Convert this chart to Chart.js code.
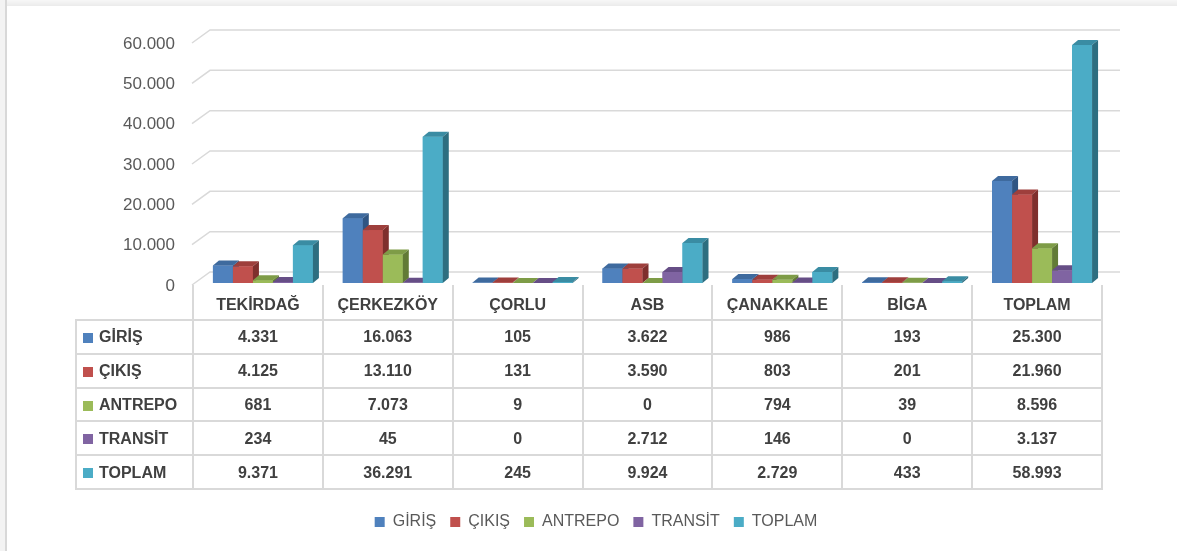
<!DOCTYPE html>
<html lang="tr">
<head>
<meta charset="utf-8">
<title>Gümrük işlemleri</title>
<script src="https://cdn.jsdelivr.net/npm/chart.js@4.4.1/dist/chart.umd.min.js"></script>
<style>
    html, body { margin: 0; padding: 0; background: #fff; }
    #wrap { position: relative; width: 1177px; height: 551px; overflow: hidden; }
    #topEdge { position: absolute; left: 0; top: 0; width: 1177px; height: 6px; background: linear-gradient(#f7f7f7, #ebebeb); }
    #leftEdge { position: absolute; left: 0; top: 0; width: 5px; height: 551px; background: #f3f3f3; border-right: 2px solid #d8d8d8; }
    #chart { position: absolute; left: 0; top: 0; }
</style>
</head>
<body>
<div id="wrap">
    <div id="topEdge"></div>
    <div id="leftEdge"></div>
    <canvas id="chart" width="1177" height="551"></canvas>
</div>
<script>
const categories = ['TEKİRDAĞ', 'ÇERKEZKÖY', 'ÇORLU', 'ASB', 'ÇANAKKALE', 'BİGA', 'TOPLAM'];
const seriesNames = ['GİRİŞ', 'ÇIKIŞ', 'ANTREPO', 'TRANSİT', 'TOPLAM'];

const giris   = [4331, 16063, 105, 3622, 986, 193, 25300];
const cikis   = [4125, 13110, 131, 3590, 803, 201, 21960];
const antrepo = [681, 7073, 9, 0, 794, 39, 8596];
const transit = [234, 45, 0, 2712, 146, 0, 3137];
const toplam  = [9371, 36291, 245, 9924, 2729, 433, 58993];

const Y_MAX = 60000;
const Y_STEP = 10000;

const FRONT_COLORS = ['#4F81BD', '#C0504D', '#9BBB59', '#8064A2', '#4BACC6'];
const TOP_COLORS   = ['#3E6A9E', '#9E3F3C', '#7E9C47', '#664E86', '#3A8CA3'];
const SIDE_COLORS  = ['#2F5583', '#7F2F2D', '#627B36', '#4F3C69', '#2D6E80'];

const FONT = '"Liberation Sans", Arial, sans-serif';
const TEXT_GREY = '#595959';
const TABLE_TEXT = '#404040';
const LINE_GREY = '#d9d9d9';

const DEPTH_X = 6, DEPTH_Y = -5;     // bar depth
const WALL_X = 18, WALL_Y = -13;     // back wall offset
const COL_SHIFT = -5;                // table columns sit a little left of the bar groups
const ROW_H = 33.8;

function fmt(n) {
    return String(n).replace(/\B(?=(\d{3})+(?!\d))/g, '.');
}

// gridlines on the back wall plus the short slanted edge on the left side wall
const wallGrid = {
    id: 'wallGrid',
    beforeDatasetsDraw(chart) {
        const ctx = chart.ctx;
        const ys = chart.scales.y;
        const { left, right } = chart.chartArea;
        ctx.save();
        ctx.strokeStyle = LINE_GREY;
        ctx.lineWidth = 1.5;
        ys.ticks.forEach(t => {
            const py = ys.getPixelForValue(t.value) + 2;
            ctx.beginPath();
            ctx.moveTo(left - 6, py);
            ctx.lineTo(left - 6 + WALL_X, py + WALL_Y);
            ctx.lineTo(right + 13, py + WALL_Y);
            ctx.stroke();
        });
        ctx.restore();
    }
};

// redraw the columns left to right with a top and a side face
const bars3d = {
    id: 'bars3d',
    afterDatasetsDraw(chart) {
        const ctx = chart.ctx;
        ctx.save();
        chart.data.datasets.forEach((ds, i) => {
            const meta = chart.getDatasetMeta(i);
            meta.data.forEach(bar => {
                const { x, y, base, width } = bar.getProps(['x', 'y', 'base', 'width'], true);
                const l = x - width / 2, r = x + width / 2;
                ctx.fillStyle = FRONT_COLORS[i];
                ctx.fillRect(l, y, width, base - y);

                ctx.fillStyle = TOP_COLORS[i];
                ctx.beginPath();
                ctx.moveTo(l, y);
                ctx.lineTo(l + DEPTH_X, y + DEPTH_Y);
                ctx.lineTo(r + DEPTH_X, y + DEPTH_Y);
                ctx.lineTo(r, y);
                ctx.closePath();
                ctx.fill();

                ctx.fillStyle = SIDE_COLORS[i];
                ctx.beginPath();
                ctx.moveTo(r, y);
                ctx.lineTo(r + DEPTH_X, y + DEPTH_Y);
                ctx.lineTo(r + DEPTH_X, base + DEPTH_Y);
                ctx.lineTo(r, base);
                ctx.closePath();
                ctx.fill();
            });
        });
        ctx.restore();
    }
};

// data table under the category labels
const dataTable = {
    id: 'dataTable',
    afterDraw(chart) {
        const ctx = chart.ctx;
        const xs = chart.scales.x;
        const colW = (xs.right - xs.left) / categories.length;
        const x0 = xs.left + COL_SHIFT;
        const xEnd = x0 + colW * categories.length;
        const tableLeft = 76;
        const headTop = xs.top + 2;
        const bodyTop = xs.top + 37;
        const rows = [giris, cikis, antrepo, transit, toplam];
        const bodyBottom = bodyTop + ROW_H * rows.length;

        ctx.save();
        ctx.strokeStyle = LINE_GREY;
        ctx.lineWidth = 2;
        ctx.beginPath();
        for (let k = 0; k <= categories.length; k++) {
            const px = Math.round(x0 + k * colW);
            ctx.moveTo(px, headTop);
            ctx.lineTo(px, bodyBottom);
        }
        ctx.moveTo(tableLeft, bodyTop);
        ctx.lineTo(tableLeft, bodyBottom);
        for (let r = 0; r <= rows.length; r++) {
            const py = Math.round(bodyTop + r * ROW_H);
            ctx.moveTo(tableLeft - 1, py);
            ctx.lineTo(xEnd + 1, py);
        }
        ctx.stroke();

        ctx.font = 'bold 16px ' + FONT;
        ctx.textBaseline = 'middle';
        rows.forEach((vals, r) => {
            const cy = bodyTop + r * ROW_H + ROW_H / 2 + 1;
            ctx.fillStyle = FRONT_COLORS[r];
            ctx.fillRect(83, Math.round(cy - 5), 10, 10);
            ctx.fillStyle = TABLE_TEXT;
            ctx.textAlign = 'left';
            ctx.fillText(seriesNames[r], 99, cy);
            ctx.textAlign = 'center';
            vals.forEach((v, c) => {
                ctx.fillText(fmt(v), x0 + c * colW + colW / 2, cy);
            });
        });
        ctx.restore();
    }
};

const seriesData = [giris, cikis, antrepo, transit, toplam];

new Chart(document.getElementById('chart'), {
    type: 'bar',
    data: {
        labels: categories,
        datasets: seriesNames.map((name, i) => ({
            label: name,
            data: seriesData[i],
            backgroundColor: FRONT_COLORS[i],
            borderWidth: 0,
            categoryPercentage: 0.77,
            barPercentage: 1.0
        }))
    },
    options: {
        responsive: false,
        animation: false,
        devicePixelRatio: 1,
        layout: {
            padding: { top: 41, right: 70, bottom: 11, left: 85 }
        },
        scales: {
            y: {
                min: 0,
                max: Y_MAX,
                ticks: {
                    stepSize: Y_STEP,
                    padding: 15,
                    labelOffset: 3,
                    color: TEXT_GREY,
                    font: { family: FONT, size: 17 },
                    callback: v => fmt(v)
                },
                grid: { display: false },
                border: { display: false },
                afterFit: s => { s.width = 113; }
            },
            x: {
                ticks: {
                    padding: 5,
                    labelOffset: COL_SHIFT,
                    color: TABLE_TEXT,
                    font: { family: FONT, size: 16, weight: 'bold' }
                },
                grid: { display: false },
                border: { display: false },
                afterFit: s => { s.height = 217; }
            }
        },
        plugins: {
            legend: {
                position: 'bottom',
                labels: {
                    boxWidth: 10,
                    boxHeight: 10,
                    padding: 14,
                    color: TEXT_GREY,
                    font: { family: FONT, size: 16 }
                }
            },
            tooltip: { enabled: false }
        }
    },
    plugins: [wallGrid, bars3d, dataTable]
});
</script>
</body>
</html>
